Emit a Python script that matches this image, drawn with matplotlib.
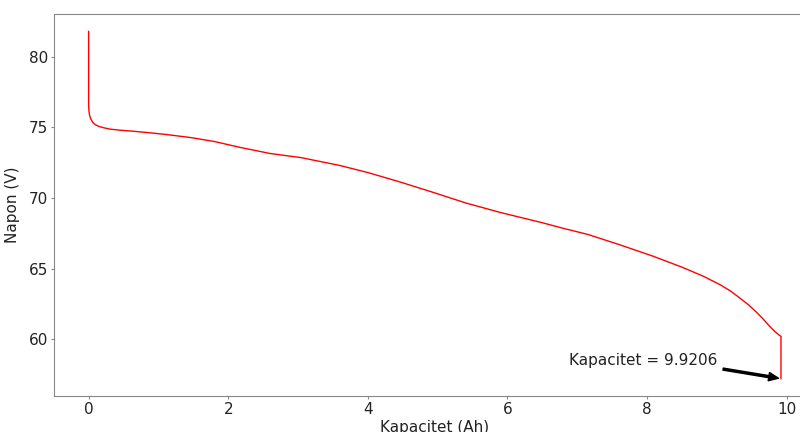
import matplotlib.pyplot as plt
import numpy as np

# Discharge curve: capacity drawn (Ah) vs. pack voltage (V)
kapacitet = [0.0, 0.0, 0.004, 0.012, 0.03, 0.06, 0.1, 0.15, 0.21, 0.3, 0.45, 0.65,
             0.85, 1.1, 1.46, 1.8, 2.18, 2.6, 3.04, 3.32, 3.6, 4.0, 4.45, 4.94,
             5.4, 5.9, 6.19, 6.48, 6.8, 7.15, 7.6, 8.09, 8.5, 8.81, 9.05, 9.20,
             9.32, 9.45, 9.56, 9.66, 9.75, 9.83, 9.89, 9.9206, 9.9206]
napon = [81.8, 76.6, 76.2, 75.9, 75.6, 75.35, 75.18, 75.06, 74.98, 74.88, 74.8, 74.72,
         74.63, 74.5, 74.28, 74.0, 73.57, 73.15, 72.86, 72.58, 72.3, 71.8, 71.15, 70.39,
         69.65, 68.97, 68.62, 68.27, 67.85, 67.42, 66.7, 65.87, 65.1, 64.45, 63.85, 63.4,
         62.95, 62.45, 61.95, 61.45, 60.95, 60.55, 60.3, 60.2, 57.2]

kraj_kapacitet = kapacitet[-1]
kraj_napon = napon[-1]

fig = plt.figure(figsize=(8, 4.32), dpi=100)
ax = fig.add_axes([0.0675, 0.0833, 0.952, 0.8843])

ax.plot(kapacitet, napon, color='red', linewidth=1.0)

ax.annotate(f'Kapacitet = {kraj_kapacitet}', xy=(kraj_kapacitet, kraj_napon),
            xytext=(6.89, 58.15), fontsize=11, color='#222222',
            arrowprops=dict(facecolor='black', edgecolor='black', width=1.5,
                            headwidth=6, headlength=7, shrink=0.04))

ax.set_xlabel('Kapacitet (Ah)', fontsize=11, labelpad=2, color='#222222')
ax.set_ylabel('Napon (V)', fontsize=11, labelpad=6, color='#222222')
ax.tick_params(labelsize=11, color='#888888', length=2.5, pad=2,
               labelcolor='#222222')
for s in ax.spines.values():
    s.set_color('#888888')

plt.savefig('out.png', dpi=100)
plt.close()
